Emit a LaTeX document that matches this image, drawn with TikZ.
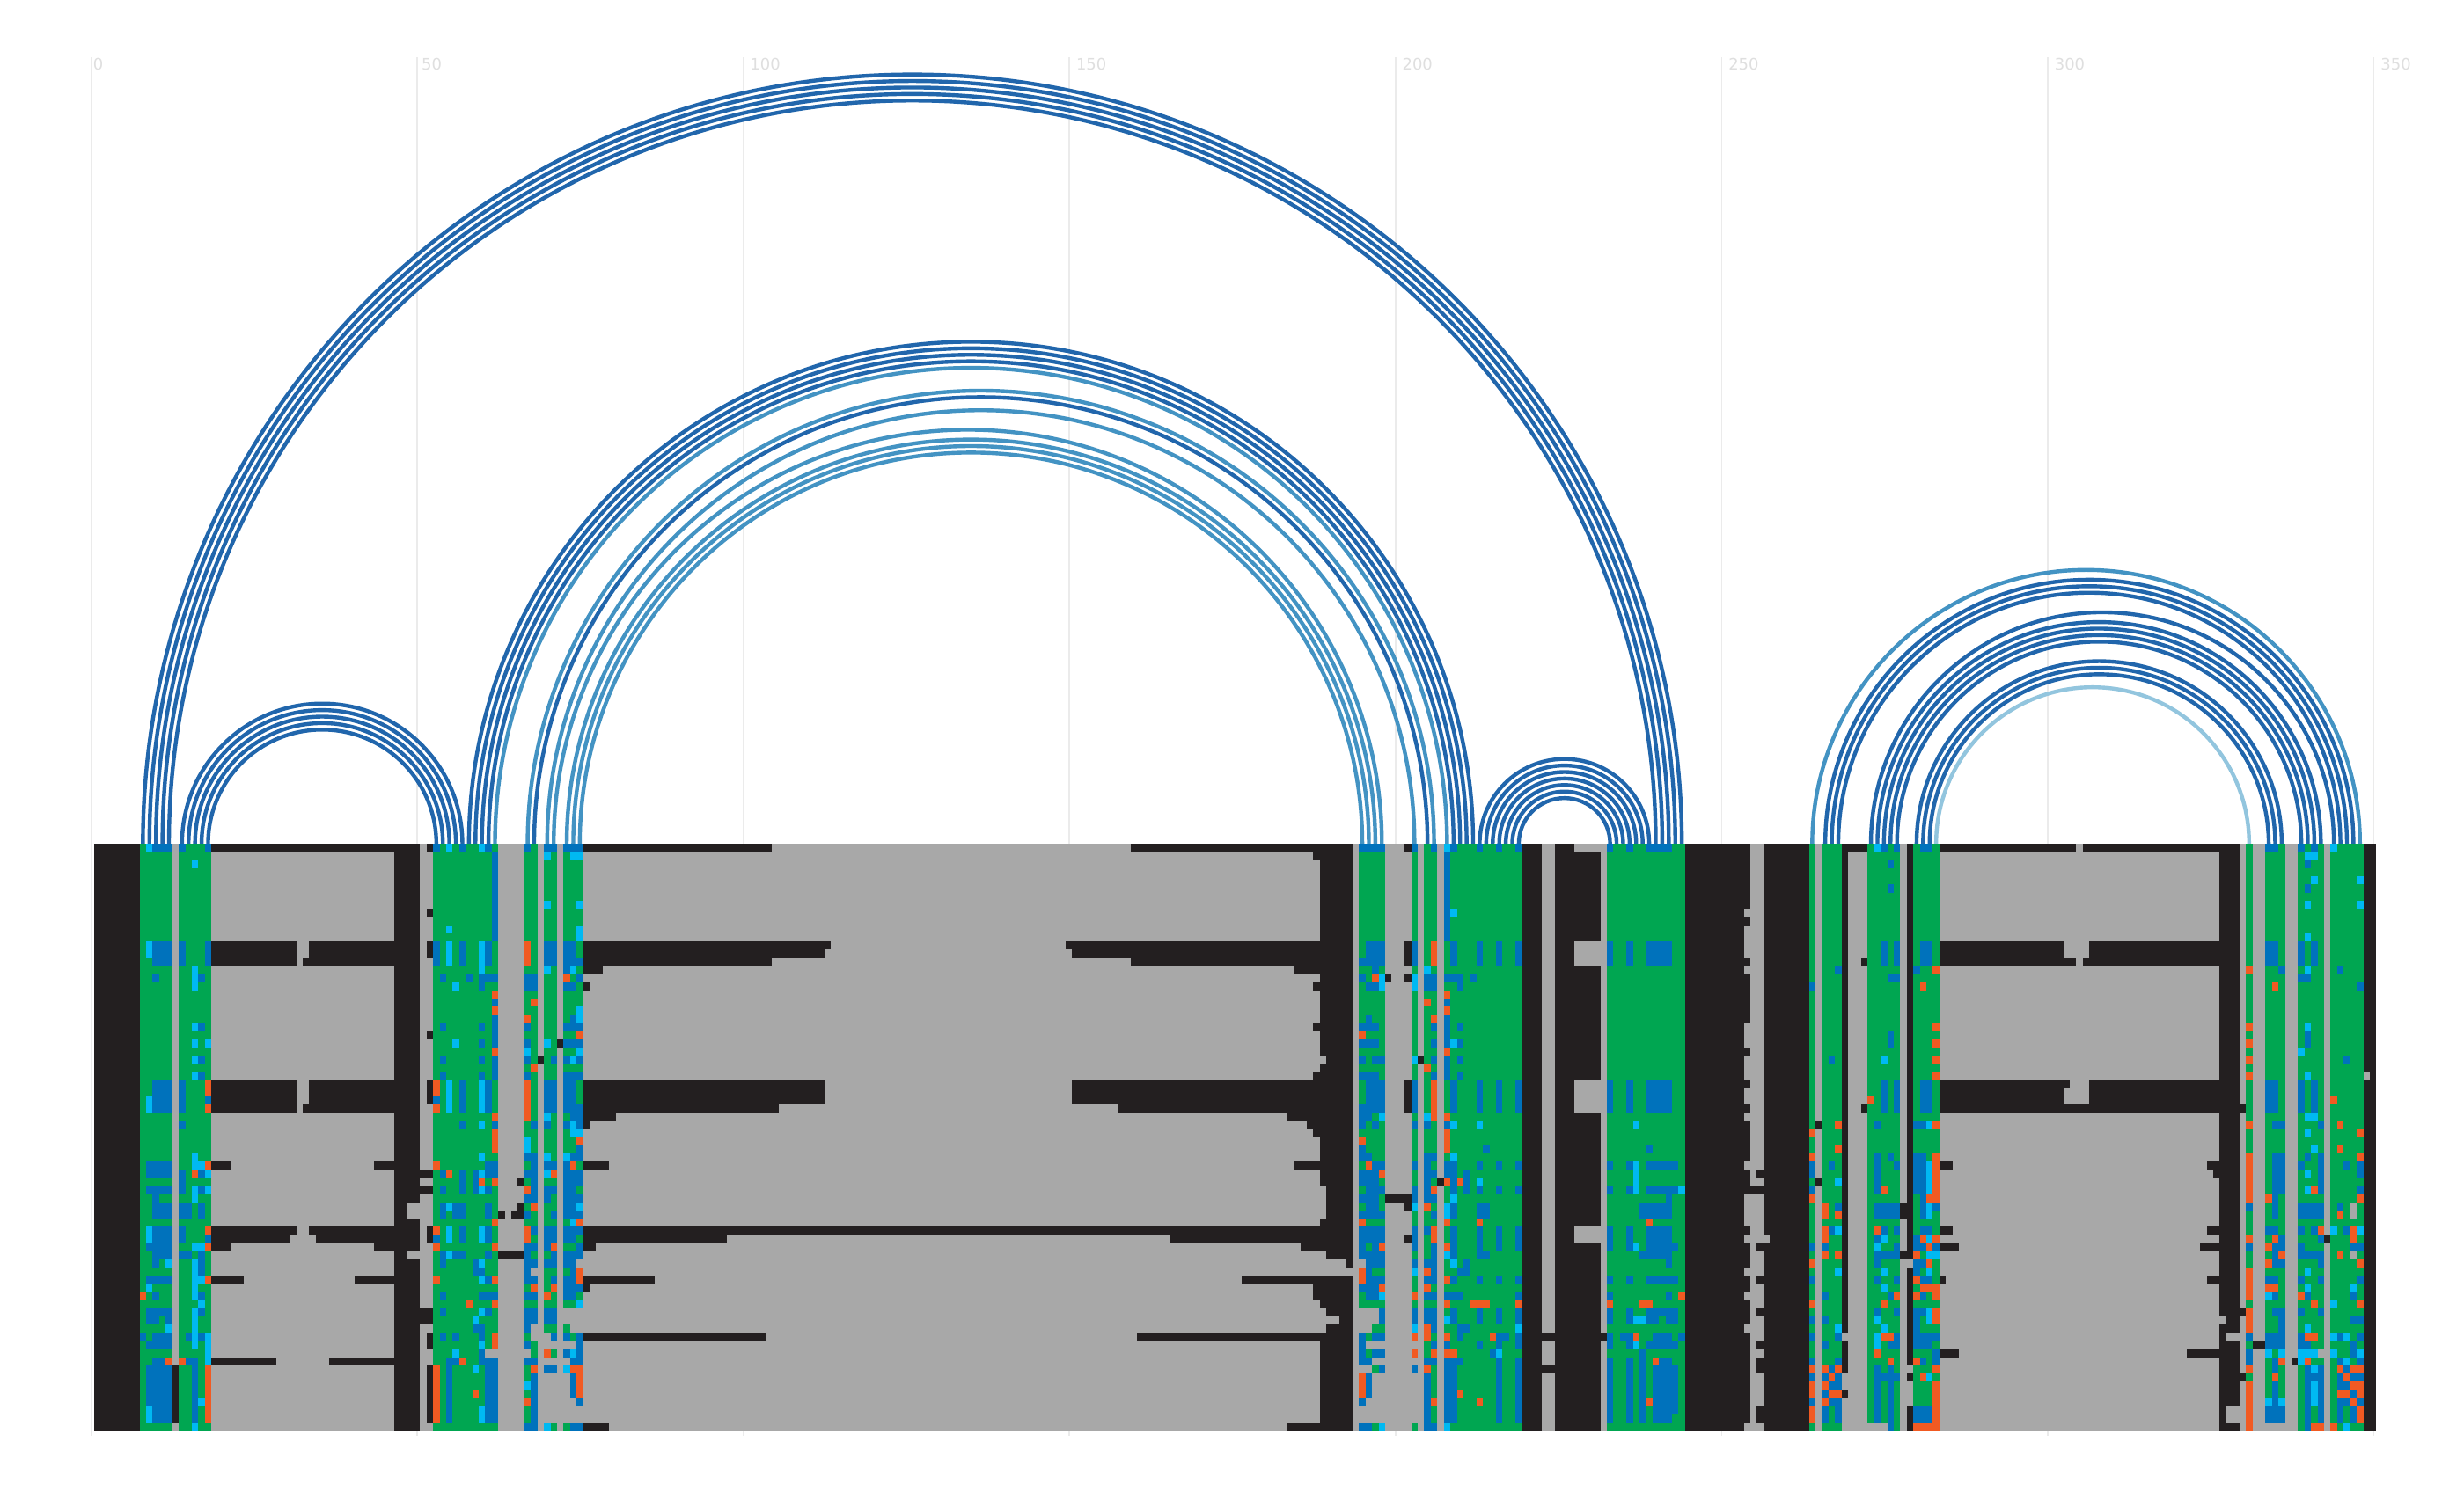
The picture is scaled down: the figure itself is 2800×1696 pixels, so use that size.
\documentclass[tikz,border=0pt]{standalone}
\usepackage{fontspec}
\setmainfont{DejaVu Sans}
\definecolor{hk}{HTML}{231F20}
\definecolor{ha}{HTML}{A8A8A8}
\definecolor{hu}{HTML}{0072BC}
\definecolor{hy}{HTML}{00B9F2}
\definecolor{ho}{HTML}{F15A22}
\definecolor{hg}{HTML}{00A651}
\definecolor{arcd}{HTML}{2166AC}
\definecolor{arcl}{HTML}{4393C3}
\definecolor{arcp}{HTML}{92C5DE}
\definecolor{tickl}{HTML}{EBEBEB}
\definecolor{tickt}{HTML}{DFDFDF}
\newcommand\paintcells[3]{\foreach \rA/\rB in {#2}{\foreach \cA/\cB in {#3}{\fill[#1] ({106.8+7.41*\cA},{959+9.262*\rA}) rectangle ({106.8+7.41*(\cB+1)},{959+9.262*(\rB+1)});}}}
\newcommand\Kc{\paintcells{hk}}
\newcommand\Ac{\paintcells{ha}}
\newcommand\Uc{\paintcells{hu}}
\newcommand\Yc{\paintcells{hy}}
\newcommand\Oc{\paintcells{ho}}
\newcommand\Gc{\paintcells{hg}}
\newcommand\pairarc[3]{\draw[arcline,#3] ({106.8+7.41*(#1+.5)},959) arc[start angle=180,end angle=360,radius={7.41*(#2-#1)/2}];}
\tikzset{arcline/.style={line width=1.25pt},
 ticktext/.style={text=tickt,inner sep=0pt,anchor=base,font=\fontsize{5.1}{6}\selectfont}}
\begin{document}
\begin{tikzpicture}[x=0.01cm,y=-0.01cm]
\useasboundingbox (0,0) rectangle (2800,1696);
\fill[white] (0,0) rectangle (2800,1696);
% axis
\foreach \k/\lab/\n in {0/0/1,1/50/2,2/100/3,3/150/3,4/200/3,5/250/3,6/300/3,7/350/3}{
 \coordinate (tt\k) at ({103.3+370.6*\k},65);
 \coordinate (tb\k) at ({103.3+370.6*\k},1632);
 \draw[tickl,line width=0.45pt] (tt\k) -- (tb\k);
 \node[ticktext] (tl\k) at ({103.3+370.6*\k+8.35*\n},79) {\lab};
}
% arcs
\foreach \a/\b in {7/243,8/242,9/241,10/240,11/239,13/56,14/55,15/54,16/53,17/52,57/211,58/210,59/209,60/208,67/204,212/238,213/237,214/236,215/235,216/234,217/233,218/232,265/346,266/345,267/344,272/343,273/341,274/340,275/339,276/338,279/335,280/334,281/333}{\pairarc{\a}{\b}{arcd}}
\foreach \a/\b in {61/207,66/205,69/202,70/197,72/196,73/195,74/194,263/347}{\pairarc{\a}{\b}{arcl}}
\pairarc{282}{330}{arcp}
% heat map base
\Ac{0/71}{0/349}
\Kc{0/71}{0/6,46/49,188/192,219/221,224/230,244/253,256/262,268,278,326/328,348/349}
\Gc{0/71}{7/11,13/17,52/61,66/67,69/70,72/74,194/197,202,204/205,207/218,232/243,263,265/267,272/276,279/282,330,333/335,338/341,343/347}
% gaps
\Ac{0,12/14,29/32,47/48}{227/230}
\Ac{26,42/45,50,57,59}{188}
\Ac{51}{188/191}\Ac{52}{188/192}\Ac{58}{188/190}
\Ac{8,10/13,15,22/24,26/28,30/31,33,39,43/46,48,52,55,59,71}{253}
\Ac{48}{256}
\Kc{40,42,49,53,57,61,63/64,69/70}{255}\Kc{42}{254}
\Ac{60,65/66,68/71}{268}
\Ac{51,64,66/68}{278}
\Ac{58}{326}\Ac{60,69/70}{327/328}
\Ac{44/45,50}{346}\Ac{28}{348}\Ac{62}{341}
\Ac{51}{74,194}\Ac{52,59}{67}\Ac{57/58}{72/74,194/196}\Ac{59}{73/74,194/195}
\Ac{60}{67,69}\Ac{61}{69/73,195/197,202}\Ac{62}{66,60/61}\Ac{63}{69/70,72,196/197,202}
\Ac{64}{194/195}\Ac{65/67}{69/70,72,196/197,202}\Ac{68}{69/70,72/73,195/197,202}
\Ac{69/70}{69/70,72/74,194/197,202}
\Ac{71}{272/274,333/335}
% black bands
\Kc{0}{18/45,51,75/103,159/187,201,269/271,283/303,305/325}
\Kc{1,22,28,35,54/55,17}{187}\Kc{8,23}{51}\Kc{16}{198,201}\Kc{17}{75}\Kc{24}{71}\Kc{26}{68,203}
\Kc{12}{18/30,33/45,75/112,149/187,51,201,283/301,306/325}
\Kc{13}{18/30,33/45,75/111,150/187,51,201,283/301,306/325}
\Kc{14}{18/30,32/45,75/103,159/187,201,271,283/303,305/325}
\Kc{15}{75/77,184/187}
\Kc{29}{18/30,33/45,75/111,150/187,51,201,283/302,306/325}
\Kc{30/31}{18/30,33/45,75/111,150/187,51,201,283/301,306/325}
\Kc{32}{18/30,32/45,75/104,157/187,201,271,283/325,329}
\Kc{33}{75/79,183/187}\Kc{34}{75,186/187,264}
\Kc{39}{18/20,43/45,75/78,184/187,283/284,324/325}
\Kc{40}{50/51,325}\Kc{41}{65,206,264}\Kc{42}{50/51}\Kc{43}{198/201}
\Ac{44/45,50}{48/49}
\Kc{44}{65,201,277}\Kc{45}{62,64/65,277}\Kc{50}{62/65,277}
\Kc{47}{18/30,33/45,75/187,51,283/284,324/325}
\Kc{48}{18/29,34/45,75/96,165/187,51,201,342}
\Kc{49}{18/20,43/45,75/76,185/187,283/285,323/325}
\Kc{53}{18/22,40/45,75/85,176/187,283,324/325}
\Kc{54}{75}\Kc{57}{50/51,329}\Kc{58}{50/51}
\Kc{60}{75/102,160/187,51,222/223,231}
\Kc{61}{51,331/332}\Kc{62}{283/285,321/325}
\Kc{63}{18/27,36/45,337}\Kc{64}{51,222/223}
\Kc{64/70}{12,51}\Kc{65}{329}
\Kc{71}{75/78,183/187}
% colour detail
\Uc{0}{9/11,13,17,52,56,60,66,69/70,72/74,194/197,202,205,208,212,215,218,232,235,238/241,274,276,280/281,333/334,338,340}
\Yc{0}{8,54,59,207,273,343}
\Uc{1/11}{61,207}
\Yc{1}{69,73/74,339/340}\Yc{2}{15}\Uc{2}{275,339}\Yc{4}{340,347}\Uc{5}{275,339}
\Yc{7}{69,74,339,347}\Yc{8}{208}\Yc{10/11}{74}\Yc{10}{54}\Yc{11}{339}
\Uc{12/14}{9/11,13,17,52,56,60,69/70,72/73,195/197,202,208,212,215,218,232,235,238/241,274,276,280/281,333/334,338,340}
\Uc{14}{74,194}
\Yc{12/13}{8}\Yc{12/14}{54,59}\Oc{12/14}{66,205}
\Yc{15}{15,59,204,69,73,339}\Uc{15}{72,196,267,279,335,344}\Oc{15}{282,330}
\Uc{16}{9,16,53,57,59/61,66/67,74,194,204/205,207/209,211,275/276,338/339}\Yc{16}{15,197,202}\Oc{16}{72,196}
\Uc{17}{59,66/67,72/73,195/196,204/205,209,263,347}\Yc{17}{15,55,197,202}\Oc{17}{280,334}
\Oc{18}{61,207}\Uc{19}{61,207}\Oc{19}{67,204}\Oc{20}{61,207}\Yc{20}{74}
\Uc{21/24}{61,207}\Oc{21}{66,205}\Uc{21}{73,195}\Yc{21}{74}
\Uc{22}{16,53,59,66,72/74,194/196,205,209}\Yc{22}{15,339}\Oc{22}{282,330}
\Oc{23}{74,194}\Uc{23/24}{275,339}
\Uc{24}{59,66,72/74,194/196,205,209}\Yc{24}{15,17,55,69,208}\Oc{24}{282,330}
\Oc{25}{61,207}\Yc{25}{66,74,338}
\Uc{26/28}{61,207}
\Uc{26}{16,53,59,66,70,72,74,194,196/197,205,209,266,345}\Yc{26}{15,73,202,274}\Oc{26}{282,330}
\Oc{27}{67,204}
\Uc{28}{16,53,59,66,72/74,194/196,205,209}\Yc{28}{15,339}\Oc{28}{282,330}
\Uc{29/32}{9/11,13,56,60,69/70,72/73,195/197,202,208,212,215,218,232,235,238/241,274,276,280/281,333/334,338,340}
\Uc{32}{74,194}
\Oc{29/30}{17,52}\Uc{31}{17,52}\Oc{32}{17,52}\Yc{31/32}{8}
\Yc{29/32}{54,59}\Oc{29/33}{66,205}\Oc{31}{272,343}
\Oc{33}{61,207}\Yc{33}{69,204,197,339/340}\Uc{33}{73/74,194/195}
\Uc{34}{13,56,61,67,69,72,74,194,196,202,204,207,273,279/280,334/335,341}\Yc{34}{59,73,208,212,236,281}\Oc{34}{267,282,330,344}
\Yc{35}{73/74,339}\Oc{35/37}{61,207}\Oc{35}{263,347}
\Yc{36/37}{66}\Oc{36}{74,194}\Uc{37}{74,194,213,238}\Oc{37}{267,344}\Yc{37}{340}
\Yc{38}{15,59,69,72,208}\Uc{38}{66/67,73/74,194/195,204/205,273,275,279/280,334/335,339,341}\Oc{38}{263,282,330,347}
\Uc{39}{8/11,60/61,67,69/70,72,196/197,202,204,207/208,212,215,218,232,235,238/242,263,266,273,276,279/280,334/335,338,341,345,347}
\Yc{39}{15/16,236,281}\Oc{39}{17,52,73,195,282,330}
\Uc{40}{8/11,13,16,53,56,58,60/61,66/67,72/74,194/196,204/205,207/208,210,263,273,279/280,334/335,341,347}
\Oc{40}{15,54,70,197,282,330}\Yc{40}{17,59,69,236,281,339}
\Uc{41}{13,56,58,67,72/74,194/196,204,208,210,273,279/280,334/335,341}\Oc{41}{59,61,207,209,282,330}\Yc{41}{212,236,267,281}
\Uc{42}{8/11,13,16,53,56,58,60,67,69/70,72/73,195/197,202,204,208,210,212,215,218,232,235,238/242,263,273,279/280,334/335,341,347}
\Yc{42}{15,17,59,236,243,281,339}\Oc{42}{66,205,274,282,330,340}
\Uc{43}{9,66/67,69,72/74,194/196,202,204/205,241,280,334}\Yc{43}{15,208}\Oc{43}{263,281/282,330,333,347}
\Uc{44}{9/11,13/14,16,53,55/56,60,72/73,195/196,208,212/213,237/241,267,273/276,280,282,330,334,338/341,344}
\Yc{44}{54,74,202,207,281}\Oc{44}{67,204,265}
\Uc{45}{9/11,13/14,16,53,55/56,60,66,70,72/74,194/197,205,208,212/213,237/241,273/276,280,334,338/341}
\Yc{45}{207,281}\Oc{45}{265,267,344}
\Oc{46}{61,74,194,207,212,238}\Yc{46}{73}
\Uc{47}{9/11,13,56,60,67,69/70,72/74,194/197,202,204,208,212,215,218,232,235,238/241,266,274,276,280/281,333/334,338,340,345}
\Yc{47/48}{8,54,59}\Oc{47}{17,52,66,205,265,273,341,346}\Yc{47}{267,343,347}
\Uc{48}{9/11,13,17,52,56,60,69/70,72/73,194/197,202,208,212,215,218,232,235,238/241,273,279,335,341}
\Oc{48}{66,205,265,280,282,330,334,346}\Yc{48}{274,281}
\Uc{49}{8/11,66/67,69,74,194,196,202,205,208,212,215,218,232,235,238/242,263,265,276,279/280,282,330,334/335,338,346/347}
\Yc{49}{15/16,236,273}\Oc{49}{17,52,61,70,197,207,281,333}
\Uc{50}{9/11,13/14,16,53,55/56,60,66,70,72/74,194/197,205,208,212/213,237/241,273/276,334,338/341}\Yc{50}{54,207,281/282}\Oc{50}{265,267,279,335,344}
\Uc{51}{9,16,53,58,66/67,69/70,72/73,195/197,202,204/205,210,241,273,279/280,334/335,341}\Yc{51}{11,15,59,208}\Oc{51}{263,281,333,347}
\Uc{52}{16,58/59,66,73,195,205,209/210,279}\Yc{52}{15,202,267,274,281,339}\Oc{52}{74,194,204,330}
\Uc{53}{8/11,60,66/67,70,72/73,195/197,204/205,208,212,215,218,232,235,238/242,263,273,276,280/281,333/334,338,341,347}
\Yc{53}{15/16,59}\Oc{53}{17,52,61,74,194,207,279,330}
\Uc{54}{72/74,194/196}\Yc{54}{8,15,274,339,346}\Oc{54}{67,70,197,204,280/282,330,333/334}
\Uc{55}{9,16,53,59/61,66/67,72/73,195/196,204/205,207/209,218,232,241,265,275,280,334,339,346}\Yc{55}{15,197,333}\Oc{55}{7,69,202,243,276,279,282,330,338}
\Yc{56}{16,74,343}\Oc{56}{57,61,207/207,211/213,218,232,237/238,263,274,340,347}
\Uc{57}{8/11,16,53,60,66/67,69/70,197,202,204/205,208,212,215,218,232,235,238/242,273,276,279/280,334/335,338,341}
\Yc{57}{15,59,281}\Oc{57}{282,330}
\Uc{58}{8/9,11,66/67,69/70,197,202,204/205,208,212,215,218,232,235,238/239,241/242,263,265,279,335,346/347}
\Yc{58}{15,58,207,236/237,273,281}\Oc{58}{282,330}
\Uc{59}{58/59,66,205,209/210,279,335}\Yc{59}{11,15,202,218,267,274,339}\Oc{59}{204,330}
\Uc{60}{7,9/11,14,16,53,55,59,70,72,74,194,196/197,209,215/216,218,232,234/235,239/241,243,263,267,276,279/282,330,333/335,338,344,347}
\Yc{60}{15,17,273,343,345}\Oc{60}{61,202,204,207,214,236,274/275,339/340}
\Uc{61}{8/11,66,74,194,205,207,212,215,218,232,235,238/242,265,275/276,279/281,333/335,338/339,346}\Yc{61}{15,17,59,236,273}\Oc{61}{61}
\Yc{62}{17,55,73,215,333,335,338/340,343,347}\Uc{62}{59,72,74,194,196/197,214,237,282,330,346}\Oc{62}{69,202,205,207/208,273}
\Uc{63}{9/10,14/15,54/55,59/61,66/67,73/74,194/195,204/205,207/209,215,218,232,235,237,240/241,263,267,280,282,330,334,344,347}
\Oc{63}{11,13,56,239,275,279,335,339}\Yc{63}{17,338,345}
\Uc{64/70}{8/11,15,54,60/61,67,204,207/208,215,218,232,235,237,239/241,334,339,341}
\Uc{64/69}{242}
\Oc{64/70}{17,52}
\Yc{64}{58,72,340}\Oc{64}{67,73/74,204,263,265,267,282,330,344,346/347}\Uc{64}{69/70,197,202,266,273,275,345}\Ac{64}{68}
\Uc{65/67}{73,195}\Oc{65/67}{74,194}\Yc{66}{66}\Yc{65}{281}
\Oc{65}{266,280,334,345}\Uc{65}{263,265,267,273/276,344,346/347}\Yc{65}{340}\Uc{65}{339/341}
\Oc{66}{263,265,282,330,346/347}\Uc{66}{266/267,273,275,344/345}\Yc{66}{340}
\Oc{67}{58,209,263,266/267,282,330,344/345,347}\Uc{67}{265,273,275,346}\Yc{67}{340}
\Yc{68}{16,333,335,340}\Uc{68}{74,194,263,266/267,273,275,344/345,347}\Oc{68}{66,205,212,238,265,282,330,346}
\Yc{69/70}{8,59}\Oc{69/70}{263,282,330,347}\Uc{69/70}{265,267,273,275,279/281,333/335,344,346}
\Uc{71}{66/67,73/74,194/195,204/205,275,339}\Yc{71}{15,69,197,207,345}\Oc{71}{279/282,330,340/341,343}
\end{tikzpicture}
\end{document}
